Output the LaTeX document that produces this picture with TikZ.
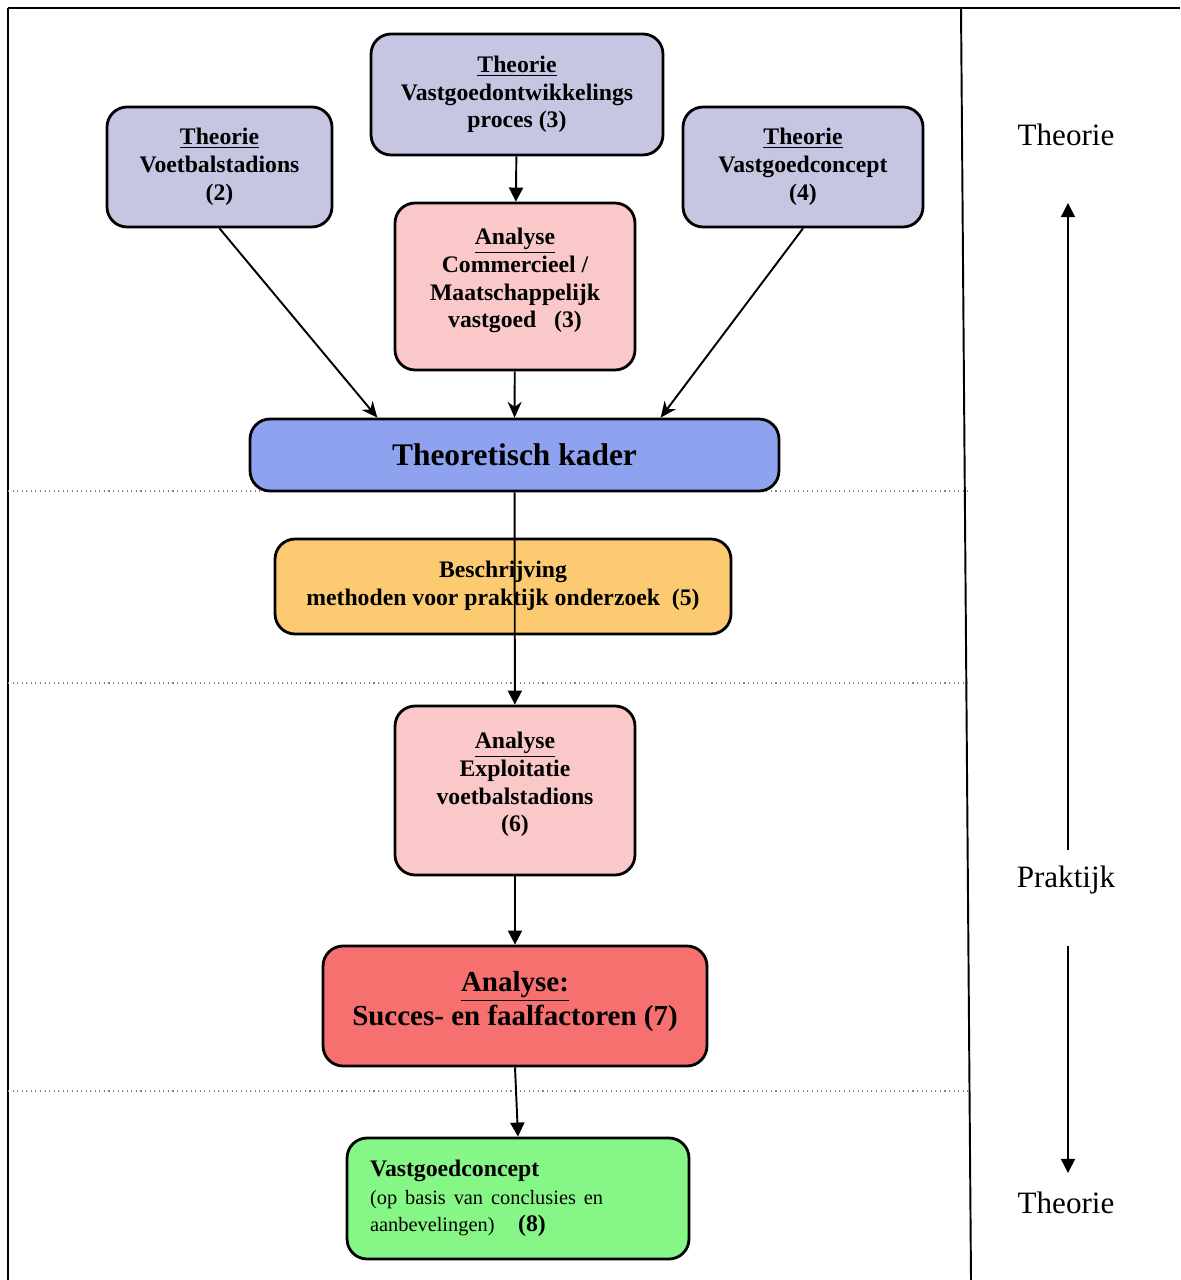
\documentclass[tikz,border=0pt]{standalone}
\usepackage{fontspec}
\setmainfont{Liberation Serif}
\usepackage{xcolor}
\usepackage{tikz}
\usetikzlibrary{arrows.meta, positioning, calc}
\definecolor{theorygray}{RGB}{198,198,226}
\definecolor{analysepink}{RGB}{250,200,200}
\definecolor{kaderblue}{RGB}{142,162,240}
\definecolor{methodorange}{RGB}{252,202,112}
\definecolor{succesred}{RGB}{246,112,112}
\definecolor{conceptgreen}{RGB}{134,246,134}
\newcommand{\boxfont}{\fontsize{13.5}{15.8}\selectfont\bfseries}

\begin{document}
\begin{tikzpicture}[
    x=0.02cm, y=-0.02cm,
    base/.style={rectangle, rounded corners=0.4cm, draw=black, line width=1.6pt, align=center, inner sep=2pt, font=\boxfont},
    theory/.style={base, fill=theorygray, minimum height=2.4cm},
    analyse/.style={base, fill=analysepink, minimum width=4.8cm},
    arrow/.style={-{Triangle[length=8pt, width=8pt]}, line width=1.1pt},
    inarrow/.style={-{Stealth[length=9pt, width=8pt]}, line width=1.1pt},
    side/.style={-{Triangle[length=8pt, width=8pt]}, line width=0.8pt},
    sep/.style={gray, dotted, line width=0.6pt}
]
    \useasboundingbox (0,0) rectangle (1180,1280);

    % Frame
    \draw[line width=1.7pt] (8,8) -- (1180,8);
    \draw[line width=1.7pt] (8,8) -- (8,1280);
    \draw[line width=1.1pt] (961,8) -- (971,1280);
    \draw[sep] (8,491) -- (968,491);
    \draw[sep] (8,683) -- (969,683);
    \draw[sep] (8,1091) -- (970,1091);

    % Theory boxes
    \node[theory, minimum width=4.5cm] (voetbal) at (219.5,167) {\underline{Theorie}\\Voetbalstadions\\(2)};
    \node[theory, minimum width=5.84cm, minimum height=2.42cm] (proces) at (517,94.5) {\underline{Theorie}\\Vastgoedontwikkelings\\proces (3)};
    \node[theory, minimum width=4.8cm] (vconcept) at (803,167) {\underline{Theorie}\\Vastgoedconcept\\(4)};
    \node[analyse, minimum height=3.34cm] (commercieel) at (515,286.5) {\underline{Analyse}\\Commercieel /\\Maatschappelijk\\vastgoed\ \ \ (3)\\[-6.2pt]};

    % Theoretical frame
    \node[base, fill=kaderblue, minimum width=10.58cm, minimum height=1.44cm, font=\fontsize{17.9}{20}\selectfont\bfseries] (kader) at (514.5,455) {Theoretisch kader};

    \draw[arrow] (proces) -- (commercieel);
    \draw[inarrow] (voetbal.south) -- ($(kader.north west)!0.242!(kader.north east)$);
    \draw[inarrow] (vconcept.south) -- ($(kader.north west)!0.775!(kader.north east)$);
    \draw[inarrow] (commercieel) -- (kader);

    % Practice
    \node[base, fill=methodorange, minimum width=9.12cm, minimum height=1.9cm] (methoden) at (503,586.5) {Beschrijving\\methoden voor praktijk onderzoek\ \ (5)\\[-12.4pt]};
    \node[analyse, minimum height=3.38cm] (exploitatie) at (515,790.5) {\underline{Analyse}\\Exploitatie\\voetbalstadions\\(6)\\[-6.2pt]};
    \node[base, fill=succesred, minimum width=7.68cm, minimum height=2.4cm, font=\fontsize{16.5}{19.3}\selectfont\bfseries] (succes) at (515,1006) {\underline{Analyse:}\\Succes- en faalfactoren (7)\\[-10.3pt]};
    \node[base, fill=conceptgreen, minimum width=6.84cm, minimum height=2.42cm, text width=5.92cm, align=left, inner xsep=0.46cm] (eind) at (518,1198.5) {Vastgoedconcept\\{\fontsize{11.6}{16}\selectfont\mdseries (op basis van conclusies en}\\{\fontsize{11.6}{16}\selectfont\mdseries aanbevelingen)}\quad(8)};

    \draw[arrow] (kader) -- (exploitatie);
    \draw[arrow] (exploitatie) -- (succes);
    \draw[arrow] (succes.south) -- (eind.north);

    % Side column
    \node[font=\fontsize{17.7}{20}\selectfont] (theorie1) at (1066,135) {Theorie};
    \node[font=\fontsize{17.7}{20}\selectfont] (praktijk) at (1066,880) {Praktijk};
    \node[font=\fontsize{17.7}{20}\selectfont] (theorie2) at (1066,1203) {Theorie};
    \coordinate (up1) at (1068,203);
    \coordinate (down1) at (1068,850);
    \coordinate (up2) at (1068,946);
    \coordinate (down2) at (1068,1173);
    \draw[side, {Triangle[length=8pt, width=8pt]}-] (up1) -- (down1);
    \draw[side] (up2) -- (down2);

\end{tikzpicture}
\end{document}
